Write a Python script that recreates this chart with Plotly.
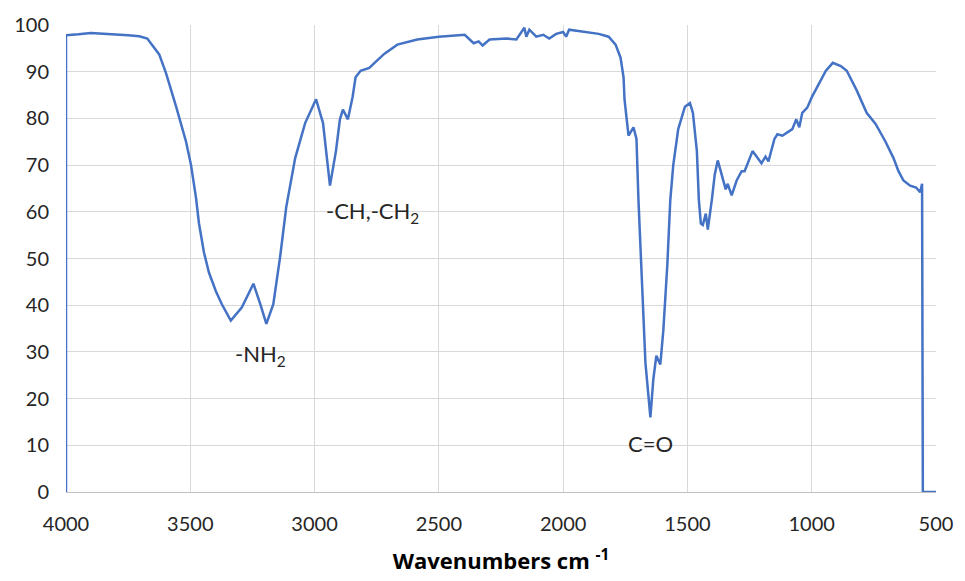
import plotly.graph_objects as go

wavenumber = [4000, 4000, 3950, 3900, 3850, 3800, 3750, 3705, 3673, 3625, 3597, 3557, 3517, 3497,
              3477, 3465, 3445, 3425, 3397, 3373, 3337, 3293, 3246, 3218, 3194, 3166, 3138,
              3114, 3078, 3038, 2994, 2966, 2938, 2914, 2898, 2886, 2866, 2847, 2835, 2815,
              2780, 2720, 2667, 2587, 2500, 2396, 2360, 2340, 2324, 2296, 2228, 2188, 2156,
              2148, 2136, 2108, 2080, 2056, 2028, 2000, 1988, 1976, 1920, 1857, 1817, 1789,
              1769, 1757, 1753, 1741, 1737, 1717, 1705, 1697, 1681, 1669, 1649, 1637, 1625,
              1609, 1597, 1581, 1569, 1557, 1537, 1510, 1490, 1478, 1462, 1454, 1446, 1438,
              1426, 1418, 1402, 1390, 1378, 1358, 1346, 1338, 1322, 1302, 1282, 1270, 1238,
              1202, 1186, 1174, 1150, 1138, 1118, 1098, 1078, 1062, 1050, 1038, 1018, 999,
              971, 943, 915, 883, 859, 819, 779, 743, 703, 671, 651, 631, 604, 580, 564, 556,
              553, 500]
transmittance = [0, 97.8, 98.0, 98.3, 98.1, 98.0, 97.8, 97.6, 97.1, 93.7, 89.6, 82.5, 75.0, 70.0,
                 63.0, 57.5, 51.3, 47.0, 43.0, 40.2, 36.7, 39.5, 44.6, 40.2, 36.0, 40.2, 50.6,
                 61.0, 71.5, 79.0, 84.1, 79.0, 65.6, 73.0, 79.8, 81.9, 79.8, 84.6, 88.8, 90.2,
                 90.8, 93.8, 95.8, 96.9, 97.5, 97.9, 96.1, 96.5, 95.6, 96.9, 97.1, 96.9, 99.4,
                 97.5, 99.0, 97.5, 97.9, 97.1, 98.1, 98.5, 97.5, 99.0, 98.5, 98.1, 97.5, 95.8,
                 93.0, 88.8, 84.0, 77.0, 76.3, 78.1, 75.6, 62.5, 41.6, 27.7, 16.0, 24.2, 29.2,
                 27.3, 34.6, 48.5, 62.5, 70.0, 77.7, 82.5, 83.3, 81.2, 73.0, 62.5, 57.5, 57.2,
                 59.6, 56.2, 62.5, 68.0, 71.0, 67.3, 64.8, 66.0, 63.5, 66.7, 68.7, 68.7, 73.0,
                 70.4, 71.8, 70.8, 75.6, 76.6, 76.3, 77.0, 77.7, 79.8, 78.1, 81.2, 82.3, 84.6,
                 87.5, 90.2, 91.9, 91.2, 90.2, 86.0, 81.2, 78.8, 75.0, 71.5, 68.7, 66.7, 65.6,
                 65.2, 64.2, 66.0, 0, 0]

label_text = ["-NH<sub>2</sub>", "-CH,-CH<sub>2</sub>", "C=O"]
label_x = [3218, 2767, 1649]
label_y = [29.4, 60.0, 10.4]

x_ticks = [4000, 3500, 3000, 2500, 2000, 1500, 1000, 500]
y_ticks = list(range(0, 101, 10))

FONT = "Lato, 'Open Sans', sans-serif"
TITLE_FONT = "'Open Sans', Lato, sans-serif"

fig = go.Figure()
fig.add_trace(go.Scatter(x=wavenumber, y=transmittance, mode="lines",
                         line=dict(color="#4472C4", width=2.5), showlegend=False,
                         hoverinfo="skip"))

for t, xv, yv in zip(label_text, label_x, label_y):
    fig.add_annotation(x=xv, y=yv, text=t, showarrow=False,
                       font=dict(family=FONT, size=22, color="#262626"),
                       xanchor="center", yanchor="middle")

fig.update_layout(
    width=965, height=581,
    margin=dict(l=66, r=22, t=14, b=88),
    paper_bgcolor="white", plot_bgcolor="white",
    font=dict(family=FONT, size=20, color="#262626"),
    xaxis=dict(range=[4000, 500], tickvals=x_ticks, ticktext=[str(v) for v in x_ticks],
               showgrid=True, gridcolor="#D9D9D9", gridwidth=1,
               showline=True, linecolor="#BFBFBF", linewidth=1, zeroline=False,
               ticks="", ticklabelstandoff=14,
               tickfont=dict(family=FONT, size=20, color="#262626"),
               title=dict(text="<b>Wavenumbers cm <sup>-1</sup></b>",
                          font=dict(family=TITLE_FONT, size=22, color="#000000"),
                          standoff=19)),
    yaxis=dict(range=[0, 100], tickvals=y_ticks,
               showgrid=True, gridcolor="#D9D9D9", gridwidth=1,
               showline=False, zeroline=False, ticks="", ticklabelstandoff=16,
               tickfont=dict(family=FONT, size=20, color="#262626")),
)

fig.write_html("out.html")
